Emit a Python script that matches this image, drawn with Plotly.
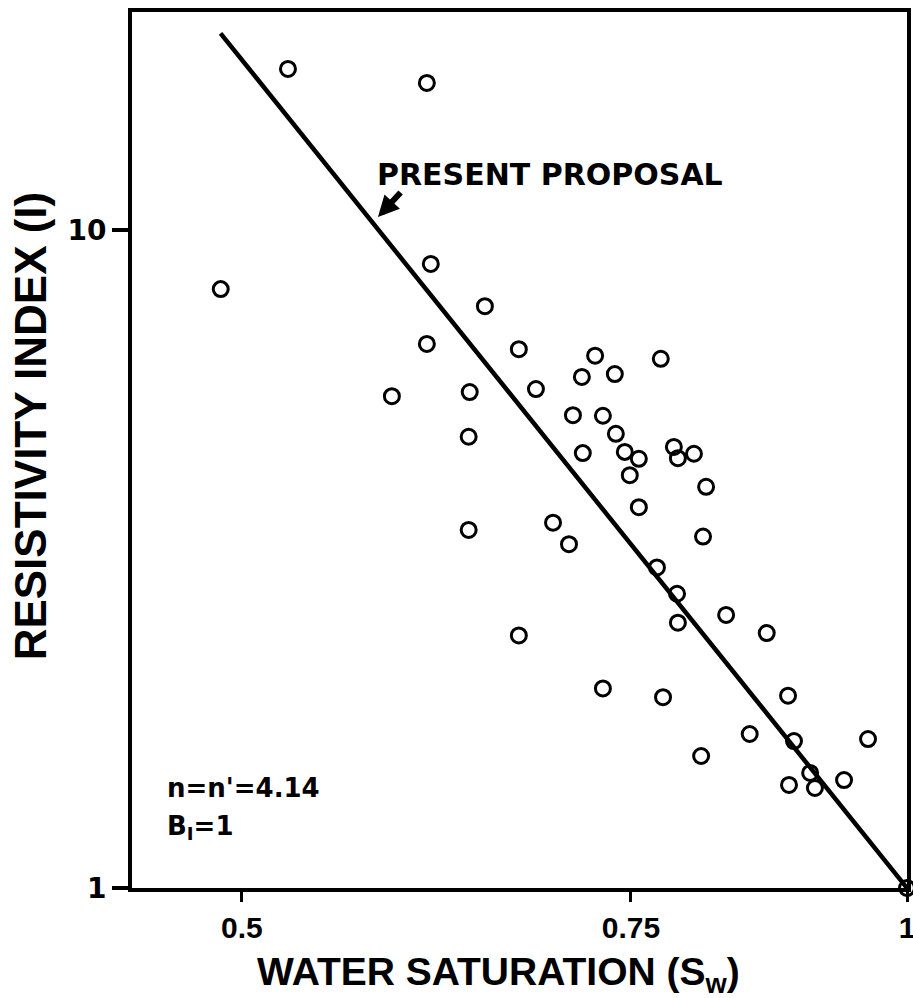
import plotly.graph_objects as go
import math

# Data (water saturation vs resistivity index)
sw = [0.4891, 0.5246, 0.6063, 0.6088, 0.6441, 0.6063, 0.6673, 0.7225, 0.7737,
      0.7126, 0.7375, 0.5846, 0.6340, 0.6793, 0.7060, 0.7284, 0.7383, 0.6333,
      0.7133, 0.7452, 0.7562, 0.7491, 0.7843, 0.7876, 0.8009, 0.8111, 0.7562,
      0.6333, 0.6915, 0.7031, 0.8085, 0.7706, 0.7869, 0.7876, 0.8282, 0.8640,
      0.6673, 0.7284, 0.7755, 0.8834, 0.8488, 0.8889, 0.9602, 0.8069, 0.9040,
      0.9365, 0.8843, 0.9085, 1.0]
ri = [8.13, 17.57, 16.73, 8.88, 7.66, 6.71, 6.59, 6.44, 6.37,
      5.98, 6.04, 5.59, 5.67, 5.73, 5.23, 5.22, 4.90, 4.85,
      4.58, 4.60, 4.49, 4.24, 4.68, 4.50, 4.57, 4.07, 3.79,
      3.50, 3.59, 3.33, 3.42, 3.07, 2.80, 2.53, 2.60, 2.44,
      2.42, 2.01, 1.95, 1.96, 1.714, 1.672, 1.684, 1.587, 1.496,
      1.459, 1.434, 1.419, 1.0]

# Fitted line ("present proposal") end points
line_sw = [0.489, 1.0]
line_ri = [19.9, 1.0]

x_tick_vals = [0.5, 0.75, 1]
x_tick_text = ["0.5", "0.75", "1"]
y_tick_vals = [1, 10]
y_tick_text = ["1", "10"]

x_range = [0.4459, 1.0]
y_range = [1.0, 21.44]

fig = go.Figure()
fig.add_trace(go.Scatter(
    x=line_sw, y=line_ri, mode="lines",
    line=dict(color="black", width=4.5),
    hoverinfo="skip", showlegend=False))
fig.add_trace(go.Scatter(
    x=sw, y=ri, mode="markers",
    marker=dict(symbol="circle-open", size=15, color="black",
                line=dict(color="black", width=3)),
    cliponaxis=False, showlegend=False))

fig.update_layout(
    width=913, height=998,
    margin=dict(l=132, r=6, t=12, b=110),
    plot_bgcolor="white", paper_bgcolor="white",
    xaxis=dict(
        type="log", range=[math.log10(v) for v in x_range],
        tickmode="array", tickvals=x_tick_vals, ticktext=x_tick_text,
        ticks="outside", ticklen=10, tickwidth=3, tickcolor="black",
        showline=True, linewidth=4, linecolor="black", mirror=True,
        showgrid=False, zeroline=False, automargin=False,
        ticklabeloverflow="allow",
        tickfont=dict(family="Liberation Sans", size=30, color="black", weight="bold"),
    ),
    yaxis=dict(
        type="log", range=[math.log10(v) for v in y_range],
        tickmode="array", tickvals=y_tick_vals, ticktext=y_tick_text,
        ticks="outside", ticklen=16, tickwidth=4, tickcolor="black",
        showline=True, linewidth=4, linecolor="black", mirror=True,
        showgrid=False, zeroline=False, automargin=False,
        ticklabeloverflow="allow",
        tickfont=dict(family="DejaVu Sans", size=28, color="black", weight="bold"),
    ),
    annotations=[
        dict(text="WATER SATURATION (S<sub>w</sub>)", xref="paper", yref="paper",
             x=0.4735, y=-0.099, xanchor="center", yanchor="middle",
             showarrow=False,
             font=dict(family="Liberation Sans", size=39, color="black", weight="bold")),
        dict(text="RESISTIVITY INDEX (I)", xref="paper", yref="paper",
             x=-0.1316, y=0.527, xanchor="center", yanchor="middle",
             textangle=-90, showarrow=False,
             font=dict(family="Liberation Sans", size=44, color="black", weight="bold")),
        dict(text="PRESENT PROPOSAL", xref="paper", yref="paper",
             x=0.3135, y=0.815, xanchor="left", yanchor="middle",
             showarrow=False,
             font=dict(family="DejaVu Sans", size=30, color="black", weight="bold")),
        dict(text="", xref="paper", yref="paper", x=0.3174, y=0.766,
             showarrow=True, ax=24, ay=-26, arrowhead=2, arrowsize=0.7,
             arrowwidth=6, arrowcolor="black"),
        dict(text="n=n'=4.14", xref="paper", yref="paper",
             x=0.0426, y=0.114, xanchor="left", yanchor="middle",
             showarrow=False,
             font=dict(family="DejaVu Sans", size=26, color="black", weight="bold")),
        dict(text="B<sub>I</sub>=1", xref="paper", yref="paper",
             x=0.0426, y=0.0696, xanchor="left", yanchor="middle",
             showarrow=False,
             font=dict(family="DejaVu Sans", size=26, color="black", weight="bold")),
    ],
)

fig.write_html("out.html")
